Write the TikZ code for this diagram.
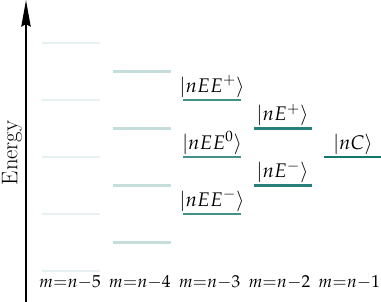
\documentclass[tikz,border=0pt]{standalone}
\usepackage{mathpazo}
\usepackage{xcolor}
\usetikzlibrary{arrows.meta,calc,positioning}
\definecolor{lvl}{HTML}{15756F}
\tikzset{
  level/.style={line width=2.2pt},
  ket/.style={above=1pt,font=\fontsize{14.8}{17}\selectfont,inner sep=1pt},
  mlabel/.style={font=\fontsize{13}{16}\selectfont,inner sep=0pt}
}

\begin{document}
\begin{tikzpicture}[x=0.75pt,y=0.75pt,>=Stealth]
\useasboundingbox (0,0) rectangle (381,302);
% energy axis
\coordinate (axisbot) at (26,0);
\coordinate (axistop) at (26,302);
\draw[-{Stealth[length=20pt,width=7pt,inset=2pt]},line width=1.5pt] (axisbot) -- (axistop);
\node[rotate=90,font=\fontsize{17}{20}\selectfont] (energy) at (12,149) {Energy};
% levels, one column per m
\foreach \col/\N/\tint in {1/5/10,2/4/25,3/3/80,4/2/92,5/1/100}{
  \pgfmathsetmacro{\cx}{71+70.5*(\col-1)}
  \foreach \j in {1,...,\N}{
    \pgfmathsetmacro{\cy}{145+57*(\j-(\N+1)/2)}
    \coordinate (l\col-\j) at (\cx-29,\cy);
    \coordinate (r\col-\j) at (\cx+29,\cy);
    \draw[level,lvl!\tint] (l\col-\j) -- (r\col-\j);
  }
}
% kets
\node[ket] (nEEm) at ($(l3-1)!0.5!(r3-1)$) {$|nEE^-\rangle$};
\node[ket] (nEEo) at ($(l3-2)!0.5!(r3-2)$) {$|nEE^0\rangle$};
\node[ket] (nEEp) at ($(l3-3)!0.5!(r3-3)$) {$|nEE^+\rangle$};
\node[ket] (nEm) at ($(l4-1)!0.5!(r4-1)$) {$|nE^-\rangle$};
\node[ket] (nEp) at ($(l4-2)!0.5!(r4-2)$) {$|nE^+\rangle$};
\node[ket] (nC) at ($(l5-1)!0.5!(r5-1)$) {$|nC\rangle$};
% columns
\foreach \col/\k in {1/5,2/4,3/3,4/2,5/1}{
  \node[mlabel] (m\col) at (70+69.8*\col-69.8,20) {$m{=}n{-}\k$};
}
\end{tikzpicture}
\end{document}
